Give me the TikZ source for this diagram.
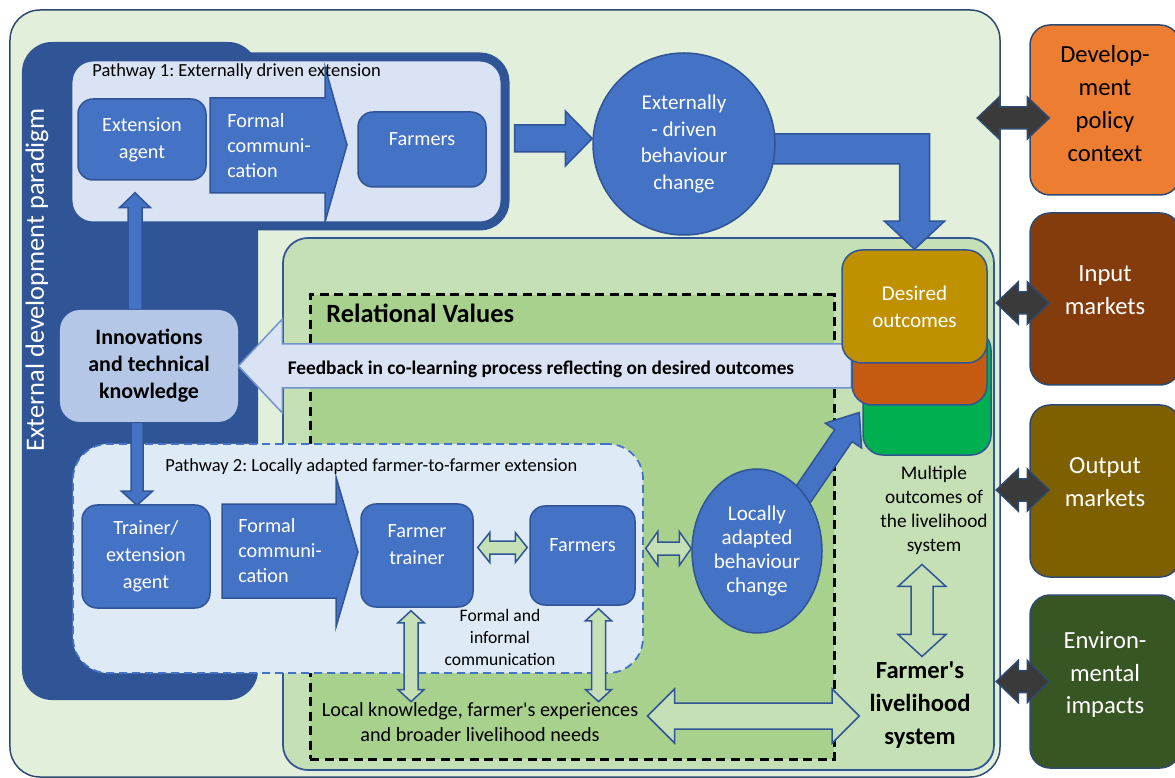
\documentclass[tikz,border=0pt]{standalone}
\usepackage{fontspec}
\setmainfont{Carlito}[Ligatures=TeXOff]
\usepackage{tikz}
\usetikzlibrary{calc,shapes.geometric}
\definecolor{outerfill}{HTML}{E2EFDA}
\definecolor{edgenavy}{HTML}{2F4A6E}
\definecolor{panelblue}{HTML}{2F5597}
\definecolor{boxblue}{HTML}{4472C4}
\definecolor{paleblue}{HTML}{DAE3F3}
\definecolor{paleblueb}{HTML}{DEEBF7}
\definecolor{innblue}{HTML}{B4C7E7}
\definecolor{fbedge}{HTML}{7393CF}
\definecolor{livgreen}{HTML}{C5E0B4}
\definecolor{relgreen}{HTML}{A9D18E}
\definecolor{goldbox}{HTML}{BF9000}
\definecolor{orgbox}{HTML}{C55A11}
\definecolor{grnbox}{HTML}{00B050}
\definecolor{devorange}{HTML}{ED7D31}
\definecolor{inbrown}{HTML}{843C0C}
\definecolor{outolive}{HTML}{7F6000}
\definecolor{envgreen}{HTML}{375623}
\definecolor{darkarrow}{HTML}{3A3A3A}
\pgfdeclarelayer{bg}
\pgfdeclarelayer{fg}
\pgfdeclarelayer{top}
\pgfsetlayers{bg,main,fg,top}
\newcommand{\blockarrow}[6][]{%
  \coordinate (ba-h) at ($(#3)!#6!(#2)$);
  \filldraw[#1] ($(#2)!#4!90:(#3)$) -- ($(ba-h)!#4!90:(#3)$) -- ($(ba-h)!#5!90:(#3)$) -- (#3)
    -- ($(ba-h)!#5!-90:(#3)$) -- ($(ba-h)!#4!-90:(#3)$) -- ($(#2)!#4!-90:(#3)$) -- cycle;}
\newcommand{\dblarrow}[6][]{%
  \coordinate (da-a) at ($(#2)!#6!(#3)$);
  \coordinate (da-b) at ($(#3)!#6!(#2)$);
  \filldraw[#1] (#2) -- ($(da-a)!#5!90:(#3)$) -- ($(da-a)!#4!90:(#3)$) -- ($(da-b)!#4!90:(#3)$)
    -- ($(da-b)!#5!90:(#3)$) -- (#3) -- ($(da-b)!#5!-90:(#3)$) -- ($(da-b)!#4!-90:(#3)$)
    -- ($(da-a)!#4!-90:(#3)$) -- ($(da-a)!#5!-90:(#3)$) -- cycle;}
\begin{document}
\frenchspacing
\begin{tikzpicture}[x=0.2mm,y=-0.2mm,
    every node/.style={inner sep=0pt},
    bluebox/.style={draw=panelblue, fill=boxblue, line width=0.3mm, rounded corners=3mm, text=white, align=center, font=\fontsize{11.5}{15.3}\selectfont},
    bluecirc/.style={draw=panelblue, fill=boxblue, line width=0.3mm, text=white, align=center},
    outbox/.style={draw=panelblue, line width=0.3mm, rounded corners=4mm, text=white, align=center, font=\fontsize{12}{15.3}\selectfont},
    sidebox/.style={draw=edgenavy, line width=0.3mm, rounded corners=4mm, minimum width=30mm, align=center, font=\fontsize{14}{18.7}\selectfont},
    bluearr/.style={draw=panelblue, fill=boxblue, line width=0.3mm},
    greenarr/.style={draw=panelblue, fill=livgreen, line width=0.3mm},
    fbarr/.style={draw=fbedge, fill=paleblue, line width=0.3mm},
    darkarr/.style={draw=edgenavy, fill=darkarrow, line width=0.3mm},
    smalltext/.style={align=center, font=\fontsize{10}{12.5}\selectfont}]
\useasboundingbox (0,0) rectangle (1175,778);
\begin{pgfonlayer}{bg}
\node[draw=edgenavy, fill=outerfill, line width=0.3mm, rounded corners=6mm, minimum width=198mm, minimum height=153.4mm] (outer) at (505,393.5) {};
\node[fill=panelblue, rounded corners=6mm, minimum width=47.2mm, minimum height=131.6mm] (panel) at (140,371) {};
\node[rotate=90, text=white, font=\fontsize{15}{18}\selectfont] (edp) at (37,280) {External development paradigm};
\node[draw=panelblue, fill=livgreen, line width=0.35mm, rounded corners=5mm, minimum width=142.2mm, minimum height=106.4mm] (livarea) at (638.5,504) {};
\node[draw=black, fill=relgreen, line width=0.6mm, dash pattern=on 1.8mm off 1.1mm, minimum width=104.8mm, minimum height=92.8mm] (rv) at (572,527) {};
\node[draw=panelblue, fill=paleblue, line width=1.8mm, rounded corners=5mm, minimum width=87.4mm, minimum height=33.8mm] (pw1) at (286.5,141.5) {};
\node[draw=boxblue, fill=paleblueb, line width=0.35mm, dash pattern=on 1.6mm off 1mm, rounded corners=7mm, minimum width=114mm, minimum height=45.8mm] (pw2) at (358,558.5) {};
\end{pgfonlayer}
\begin{pgfonlayer}{fg}
\node[bluebox, minimum width=25.6mm, minimum height=16.2mm] (ea) at (142,139.5) {Extension\\agent};
\node[bluebox, minimum width=25.6mm, minimum height=15mm] (fa1) at (422,149.5) {Farmers\\[-1mm]\mbox{}};
\node[bluecirc, circle, minimum size=36.4mm, font=\fontsize{12}{15.3}\selectfont] (ext) at (684,144) {Externally\\- driven\\behaviour\\change};
\node[fill=innblue, rounded corners=4mm, minimum width=35.6mm, minimum height=22.4mm, align=center, font=\bfseries\fontsize{12.5}{15.3}\selectfont] (inn) at (149,366) {Innovations\\and technical\\knowledge};
\node[bluebox, minimum width=25.6mm, minimum height=20.6mm] (tr) at (146,556.5) {Trainer/\\extension\\agent};
\node[bluebox, minimum width=22.4mm, minimum height=20.6mm] (ft) at (417,555.5) {Farmer\\trainer\\[-1mm]\mbox{}};
\node[bluebox, minimum width=21mm, minimum height=19.8mm] (fa2) at (582.5,555.5) {Farmers\\[-1mm]\mbox{}};
\node[bluecirc, ellipse, minimum width=26mm, minimum height=32.8mm, font=\fontsize{12}{13.6}\selectfont] (lab) at (757,551) {Locally\\adapted\\behaviour\\change};
\node[outbox, fill=grnbox, minimum width=25.6mm, minimum height=25mm] (grn) at (927,392.5) {};
\node[outbox, fill=orgbox, minimum width=27mm, minimum height=23mm] (org) at (919.5,347.5) {};
\node[outbox, fill=goldbox, minimum width=29mm, minimum height=22.6mm] (des) at (914.5,306.5) {Desired\\outcomes};
\node[anchor=west, font=\fontsize{10.5}{13}\selectfont] (p1t) at (92,72) {Pathway 1: Externally driven extension};
\node[anchor=west, text=white, align=left, font=\fontsize{11.5}{14.2}\selectfont] (fc1) at (227,146) {Formal\\communi-\\cation};
\node[anchor=west, font=\bfseries\fontsize{15}{18}\selectfont] (rvt) at (326,313) {Relational Values};
\node[font=\bfseries\fontsize{11}{13}\selectfont] (fbt) at (541,369) {Feedback in co-learning process reflecting on desired outcomes};
\node[anchor=west, font=\fontsize{10.5}{13}\selectfont] (p2t) at (165,467) {Pathway 2: Locally adapted farmer-to-farmer extension};
\node[anchor=west, text=white, align=left, font=\fontsize{11.5}{14.2}\selectfont] (fc2) at (238,551) {Formal\\communi-\\cation};
\node[smalltext] (fic) at (500,637) {Formal and\\informal\\communication};
\node[align=center, font=\fontsize{11.5}{14.7}\selectfont] (lk) at (480,722) {Local knowledge, farmer's experiences\\and broader livelihood needs};
\node[align=center, font=\fontsize{11}{13.6}\selectfont] (mo) at (934,510) {Multiple\\outcomes of\\the livelihood\\system};
\node[align=center, font=\bfseries\fontsize{14}{18.7}\selectfont] (liv) at (920,705) {Farmer's\\livelihood\\system};
\node[sidebox, fill=devorange, minimum height=34mm] (dev) at (1105,110) {Develop-\\ment\\policy\\context\\[-4mm]\mbox{}};
\node[sidebox, fill=inbrown, text=white, minimum height=34.4mm] (inp) at (1105,299) {Input\\markets\\[-3mm]\mbox{}};
\node[sidebox, fill=outolive, text=white, minimum height=34.4mm] (out) at (1105,491) {Output\\markets\\[-3mm]\mbox{}};
\node[sidebox, fill=envgreen, text=white, minimum height=34.6mm] (env) at (1105,681.5) {Environ-\\mental\\impacts\\[-3mm]\mbox{}};
\end{pgfonlayer}
\filldraw[bluearr] (210,98) -- (325,98) -- (325,67) -- (347,145) -- (325,222) -- (325,193) -- (210,193) -- cycle;
\filldraw[bluearr] (222,504) -- (336,504) -- (336,477) -- (358,552) -- (336,627) -- (336,598) -- (222,598) -- cycle;
\coordinate (p1o) at ($(pw1.east)+(5,-3)$);
\blockarrow[bluearr]{p1o}{p1o -| ext.west}{2.7mm}{5.5mm}{5.4mm}
\filldraw[bluearr] ($(ext.east)+(-8,-10)$) -| ($(des.north)+(15,-28)$) -- ++(15,0) -- (des.north) -- ++(-30,-28) -- ++(15,0) |- ($(ext.east)+(-8,20)$) -- cycle;
\blockarrow[fbarr]{inn.east -| org.west}{inn.east}{4.4mm}{9.4mm}{8.8mm}
\coordinate (eat) at ($(ea.south)+(-7,12)$);
\blockarrow[bluearr]{inn.north -| eat}{eat}{1.4mm}{3.1mm}{3mm}
\coordinate (trt) at ($(tr.north)+(-9,1)$);
\blockarrow[bluearr]{inn.south -| trt}{trt}{1.2mm}{3.1mm}{2.8mm}
\coordinate (g1a) at ($(ft.east)+(4,-8)$);
\coordinate (g1b) at ($(fa2.west)+(-2,-8)$);
\dblarrow[greenarr]{g1a}{g1b}{1.3mm}{3mm}{2.4mm}
\coordinate (g2a) at ($(fa2.east)+(10,-7)$);
\dblarrow[greenarr]{g2a}{g2a -| lab.west}{1.3mm}{3.4mm}{2.4mm}
\coordinate (ds) at ($(lab.center)!0.85!(lab.50)$);
\coordinate (dt) at ($(grn.west)+(-3,20)$);
\blockarrow[bluearr]{ds}{dt}{2.1mm}{4.4mm}{5.6mm}
\coordinate (v1) at ($(ft.south)+(-6,3)$);
\coordinate (v2) at ($(fa2.south)+(16,3)$);
\dblarrow[greenarr]{v1}{v1 |- lk.north}{1.4mm}{2.6mm}{2.4mm}
\dblarrow[greenarr]{v2}{v2 |- lk.north}{1.4mm}{2.6mm}{2.4mm}
\coordinate (la) at ($(lk.east)+(9,-6)$);
\coordinate (lb) at ($(la -| liv.west)+(-10,0)$);
\dblarrow[greenarr]{la}{lb}{2.6mm}{5.4mm}{5.4mm}
\coordinate (m1) at ($(mo.south)+(-12,10)$);
\coordinate (m2) at ($(liv.north)+(2,-5)$);
\dblarrow[greenarr]{m1}{m1 |- m2}{2.2mm}{4.8mm}{4.4mm}
\begin{pgfonlayer}{top}
\coordinate (d1a) at ($(dev.west)+(-52,8)$);
\coordinate (d1b) at ($(dev.west)+(20,8)$);
\dblarrow[darkarr]{d1a}{d1b}{2.2mm}{4.2mm}{4.4mm}
\coordinate (d2a) at ($(inp.west)+(-33,4)$);
\coordinate (d2b) at ($(inp.west)+(20,4)$);
\dblarrow[darkarr]{d2a}{d2b}{2.2mm}{4.2mm}{4.4mm}
\coordinate (d3a) at ($(out.west)+(-33,-1)$);
\coordinate (d3b) at ($(out.west)+(20,-1)$);
\dblarrow[darkarr]{d3a}{d3b}{2.2mm}{4.2mm}{4.4mm}
\coordinate (d4a) at ($(env.west)+(-33,0)$);
\coordinate (d4b) at ($(env.west)+(20,0)$);
\dblarrow[darkarr]{d4a}{d4b}{2.2mm}{4.2mm}{4.4mm}
\end{pgfonlayer}
\end{tikzpicture}
\end{document}
